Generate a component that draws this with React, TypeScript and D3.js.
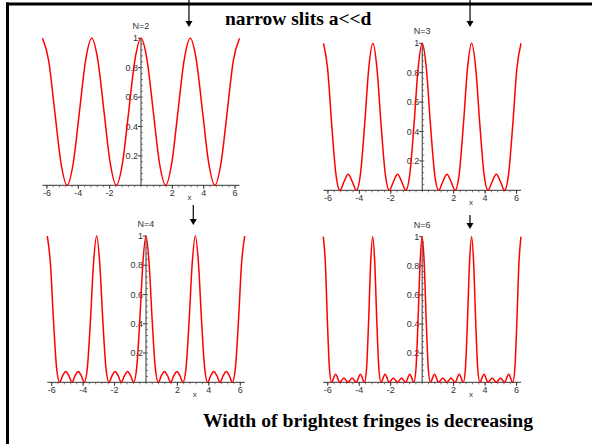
import * as d3 from "d3"
import React, { useEffect, useRef } from "react"

// bright fringe positions (x axis units)
const peakX = [-6.283, -3.142, 0, 3.142, 6.283]

// one fringe period, from one bright peak to the next
const n2Offset = [0, 0.39, 0.785, 1.18, 1.571, 1.96, 2.356, 2.75, 3.142]
const n2Value = [1, 0.85, 0.5, 0.15, 0, 0.15, 0.5, 0.85, 1]
const n3Offset = [0, 0.26, 0.52, 0.79, 1.047, 1.31, 1.571, 1.83, 2.094, 2.35, 2.62, 2.88, 3.142]
const n3Value = [1, 0.83, 0.45, 0.11, 0, 0.06, 0.11, 0.06, 0, 0.11, 0.45, 0.83, 1]
const n4Offset = [0, 0.2, 0.39, 0.59, 0.785, 0.98, 1.178, 1.37, 1.571, 1.77, 1.963, 2.16, 2.356, 2.55, 2.75, 2.94, 3.142]
const n4Value = [1, 0.81, 0.43, 0.1, 0, 0.045, 0.073, 0.045, 0, 0.045, 0.073, 0.045, 0, 0.1, 0.43, 0.81, 1]
const n6Offset = [0, 0.13, 0.26, 0.39, 0.524, 0.785, 1.047, 1.309, 1.571, 1.833, 2.094, 2.356, 2.618, 2.75, 2.88, 3.01, 3.142]
const n6Value = [1, 0.82, 0.42, 0.095, 0, 0.056, 0, 0.03, 0, 0.03, 0, 0.056, 0, 0.095, 0.42, 0.82, 1]

const xTicks = [-6, -4, -2, 2, 4, 6]
const yTicks = [0.2, 0.4, 0.6, 0.8, 1]
const yTickLabels = ["0.2", "0.4", "0.6", "0.8", "1"]
const panelLabels = ["N=2", "N=3", "N=4", "N=6"]
// where the little arrows point (x axis units)
const arrowAt = [3.06, 3.04, 3.01, 3.04]

const title = "narrow slits a<<d"
const caption = "Width of brightest fringes is decreasing"

const W = 592
const H = 444

const panels = [
    { offset: n2Offset, value: n2Value, left: 42.5, right: 239.5, top: 38.3, bottom: 185.3, arrowTop: 0, arrowTip: 27 },
    { offset: n3Offset, value: n3Value, left: 323.5, right: 521, top: 43.3, bottom: 190.3, arrowTop: 0, arrowTip: 27 },
    { offset: n4Offset, value: n4Value, left: 47.3, right: 244.7, top: 236, bottom: 382.3, arrowTop: 205, arrowTip: 225 },
    { offset: n6Offset, value: n6Value, left: 323.3, right: 521, top: 236.7, bottom: 382.3, arrowTop: 215, arrowTip: 229 },
]

const tickFont = "'Liberation Sans', Arial, sans-serif"

const App = () => {
    const refSvg = useRef<SVGSVGElement>(null)

    useEffect(() => {
        const svg = d3.select(refSvg.current)
        svg.selectAll("*").remove()

        // frame: top and left bars only
        svg.append("line").attr("x1", 6).attr("x2", W).attr("y1", 4).attr("y2", 4)
            .attr("stroke", "#000").attr("stroke-width", 3)
        svg.append("line").attr("x1", 7.5).attr("x2", 7.5).attr("y1", 2.5).attr("y2", H)
            .attr("stroke", "#000").attr("stroke-width", 3)

        panels.forEach((p, i) => {
            const scaleX = d3.scaleLinear().domain([peakX[0], peakX[peakX.length - 1]]).range([p.left, p.right])
            const scaleY = d3.scaleLinear().domain([0, 1]).range([p.bottom, p.top])
            const g = svg.append("g").attr("class", "panel")

            // x axis
            g.append("line")
                .attr("x1", scaleX(peakX[0])).attr("x2", scaleX(peakX[peakX.length - 1]))
                .attr("y1", scaleY(0)).attr("y2", scaleY(0))
                .attr("stroke", "#333").attr("stroke-width", 1)
            const minorX = d3.range(-15, 16).map(k => k * 0.4)
            g.selectAll(".xminor").data(minorX).join("line")
                .attr("class", "xminor")
                .attr("x1", d => scaleX(d)).attr("x2", d => scaleX(d))
                .attr("y1", scaleY(0)).attr("y2", scaleY(0) + 2)
                .attr("stroke", "#555").attr("stroke-width", 0.8)
            g.selectAll(".xmajor").data(xTicks).join("line")
                .attr("class", "xmajor")
                .attr("x1", d => scaleX(d)).attr("x2", d => scaleX(d))
                .attr("y1", scaleY(0)).attr("y2", scaleY(0) + 3.5)
                .attr("stroke", "#333").attr("stroke-width", 1)
            g.selectAll(".xlab").data(xTicks).join("text")
                .attr("class", "xlab")
                .attr("x", d => scaleX(d)).attr("y", scaleY(0) + 11)
                .attr("text-anchor", "middle")
                .attr("font-family", tickFont).attr("font-size", 9).attr("fill", "#333")
                .text(d => d)
            g.append("text")
                .attr("x", scaleX(3.1)).attr("y", scaleY(0) + 15)
                .attr("text-anchor", "middle")
                .attr("font-family", tickFont).attr("font-size", 8).attr("fill", "#333")
                .text("x")

            // y axis
            g.append("line")
                .attr("x1", scaleX(0)).attr("x2", scaleX(0))
                .attr("y1", scaleY(0)).attr("y2", scaleY(1))
                .attr("stroke", "#333").attr("stroke-width", 1)
            const minorY = d3.range(1, 25).map(k => k * 0.04)
            g.selectAll(".yminor").data(minorY).join("line")
                .attr("class", "yminor")
                .attr("x1", scaleX(0)).attr("x2", scaleX(0) + 2)
                .attr("y1", d => scaleY(d)).attr("y2", d => scaleY(d))
                .attr("stroke", "#555").attr("stroke-width", 0.8)
            g.selectAll(".ymajor").data(yTicks).join("line")
                .attr("class", "ymajor")
                .attr("x1", scaleX(0) - 3).attr("x2", scaleX(0))
                .attr("y1", d => scaleY(d)).attr("y2", d => scaleY(d))
                .attr("stroke", "#333").attr("stroke-width", 1)
            g.selectAll(".ylab").data(yTicks).join("text")
                .attr("class", "ylab")
                .attr("x", scaleX(0) - 3).attr("y", d => scaleY(d) + 3)
                .attr("text-anchor", "end")
                .attr("font-family", tickFont).attr("font-size", 9).attr("fill", "#333")
                .text((d, j) => yTickLabels[j])

            g.append("text")
                .attr("x", scaleX(0)).attr("y", scaleY(1) - 9)
                .attr("text-anchor", "middle")
                .attr("font-family", tickFont).attr("font-size", 9).attr("fill", "#333")
                .text(panelLabels[i])

            // intensity curve, fringe after fringe
            const points: [number, number][] = []
            for (let k = 0; k < peakX.length - 1; k++) {
                p.offset.forEach((o, j) => {
                    if (k > 0 && j === 0) return
                    points.push([peakX[k] + o, p.value[j]])
                })
            }
            const line = d3.line<[number, number]>()
                .x(d => scaleX(d[0]))
                .y(d => scaleY(d[1]))
                .curve(d3.curveMonotoneX)
            g.append("path")
                .attr("d", line(points))
                .attr("fill", "none")
                .attr("stroke", "#ff0000")
                .attr("stroke-width", 1.5)

            // arrow pointing at the first order fringe
            const ax = scaleX(arrowAt[i])
            g.append("line")
                .attr("x1", ax).attr("x2", ax)
                .attr("y1", p.arrowTop).attr("y2", p.arrowTip - 5)
                .attr("stroke", "#000").attr("stroke-width", 1.2)
            g.append("path")
                .attr("d", `M${ax - 3.5},${p.arrowTip - 6} L${ax + 3.5},${p.arrowTip - 6} L${ax},${p.arrowTip} Z`)
                .attr("fill", "#000")
        })

        svg.append("text")
            .attr("x", 225).attr("y", 25)
            .attr("font-family", "'Liberation Serif', 'Times New Roman', serif")
            .attr("font-weight", "bold").attr("font-size", 19.5)
            .attr("fill", "#000")
            .text(title)
        svg.append("text")
            .attr("x", 203).attr("y", 427)
            .attr("font-family", "'Liberation Serif', 'Times New Roman', serif")
            .attr("font-weight", "bold").attr("font-size", 19.7)
            .attr("fill", "#000")
            .text(caption)
    }, [])

    return (
        <div style={{ position: "fixed", left: 0, top: 0, width: W, height: H, background: "#fff" }}>
            <svg ref={refSvg} width={W} height={H} style={{ display: "block" }}></svg>
        </div>
    )
}

export default App
